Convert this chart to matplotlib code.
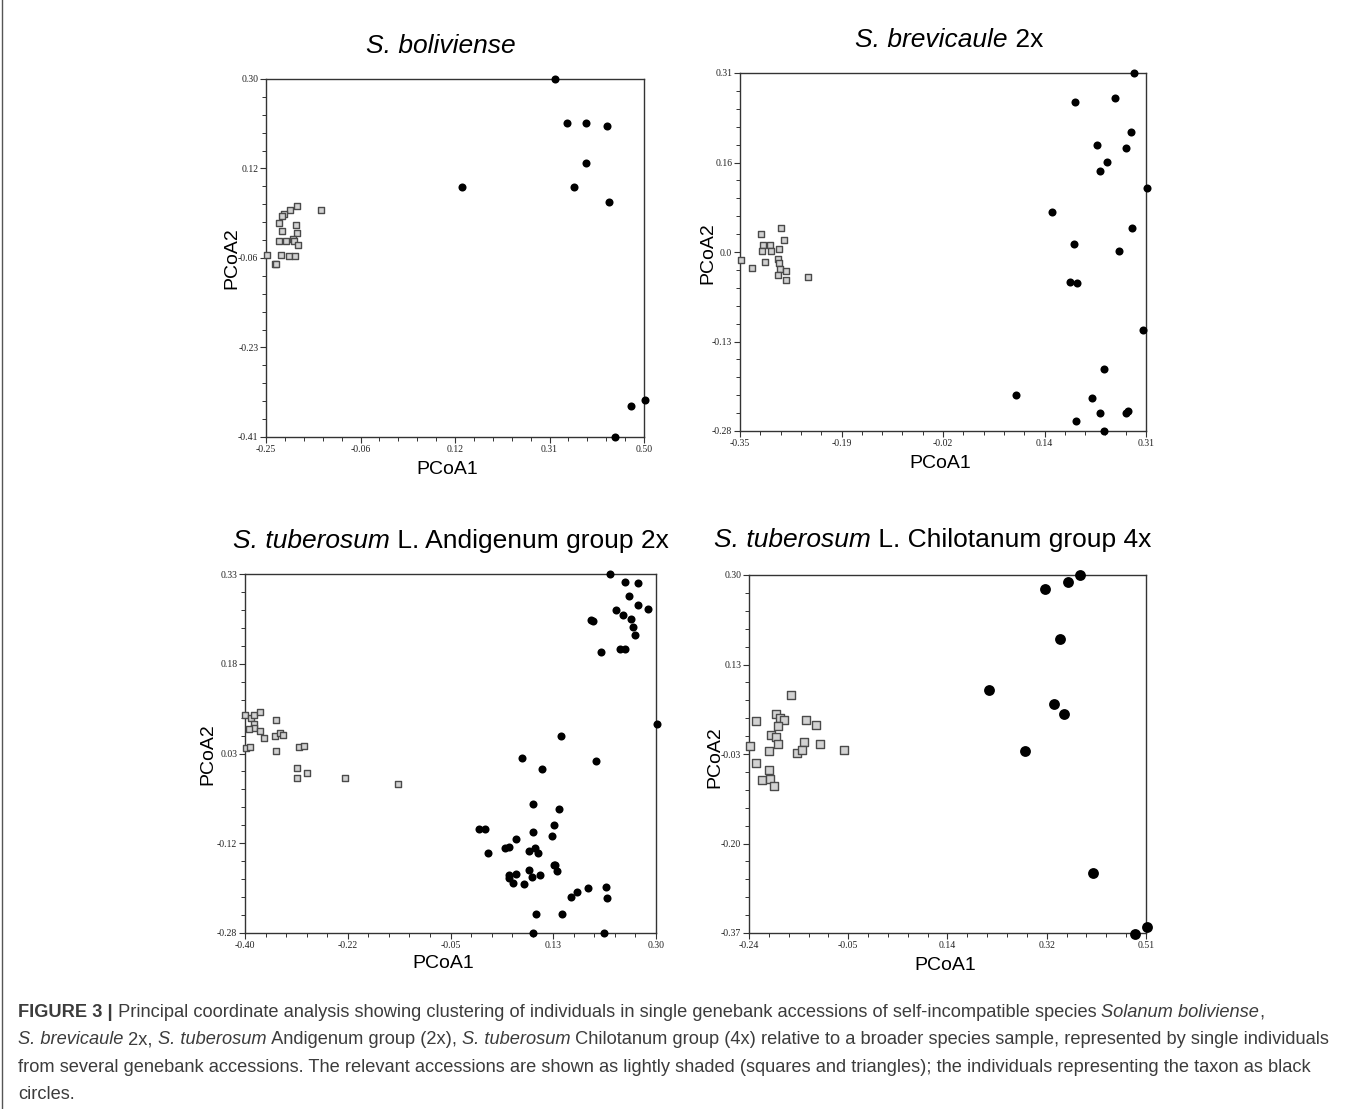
import numpy as np
import matplotlib
matplotlib.use("Agg")
import matplotlib.pyplot as plt
from matplotlib.ticker import FixedLocator, FixedFormatter, AutoMinorLocator

# ---- data (PCoA1, PCoA2) ----
# S. boliviense
p1_sq_x = [-0.189, -0.203, -0.214, -0.219, -0.140, -0.224, -0.190, -0.218, -0.189, -0.224,
           -0.210, -0.197, -0.195, -0.187, -0.249, -0.221, -0.204, -0.193, -0.233, -0.231]
p1_sq_y = [0.049, 0.041, 0.033, 0.028, 0.041, 0.015, 0.011, -0.001, -0.006, -0.022,
           -0.022, -0.017, -0.022, -0.030, -0.050, -0.050, -0.052, -0.052, -0.066, -0.066]
p1_ci_x = [0.324, 0.347, 0.384, 0.426, 0.385, 0.139, 0.361, 0.431, 0.501, 0.474, 0.443]
p1_ci_y = [0.300, 0.213, 0.213, 0.207, 0.133, 0.086, 0.086, 0.057, -0.336, -0.349, -0.410]

# S. brevicaule 2x
p2_sq_x = [-0.284, -0.316, -0.278, -0.313, -0.302, -0.315, -0.300, -0.286, -0.349,
           -0.309, -0.289, -0.286, -0.330, -0.285, -0.275, -0.289, -0.275, -0.239]
p2_sq_y = [0.055, 0.045, 0.034, 0.027, 0.027, 0.017, 0.017, 0.020, 0.001,
           -0.001, 0.003, -0.003, -0.011, -0.013, -0.017, -0.023, -0.031, -0.026]
p2_ci_x = [0.290, 0.194, 0.260, 0.286, 0.231, 0.278, 0.246, 0.236, 0.311, 0.157, 0.288, 0.193,
           0.266, 0.187, 0.198, 0.305, 0.242, 0.099, 0.223, 0.236, 0.277, 0.280, 0.196, 0.242]
p2_ci_y = [0.310, 0.263, 0.268, 0.213, 0.191, 0.186, 0.164, 0.148, 0.120, 0.081, 0.055, 0.029,
           0.017, -0.034, -0.036, -0.114, -0.177, -0.220, -0.225, -0.250, -0.250, -0.247, -0.263, -0.280]

# S. tuberosum L. Andigenum group 2x
p3_sq_x = [-0.400, -0.390, -0.385, -0.375, -0.385, -0.385, -0.394, -0.375, -0.367, -0.347, -0.349, -0.340,
           -0.336, -0.348, -0.398, -0.392, -0.308, -0.299, -0.311, -0.295, -0.311, -0.229, -0.140]
p3_sq_y = [0.090, 0.086, 0.090, 0.095, 0.075, 0.069, 0.066, 0.063, 0.052, 0.082, 0.055, 0.059,
           0.057, 0.030, 0.035, 0.036, 0.036, 0.037, 0.001, -0.008, -0.017, -0.017, -0.026]
p3_ci_x = [0.222, 0.247, 0.270, 0.254, 0.270, 0.286, 0.232, 0.243, 0.258, 0.189, 0.192, 0.260, 0.264,
           0.238, 0.248, 0.207, 0.301, 0.139, 0.072, 0.197, 0.106, 0.090, 0.135, -0.001, 0.008, 0.126,
           0.090, 0.123, 0.061, 0.042, 0.050, 0.014, 0.084, 0.094, 0.099, 0.126, 0.128, 0.084, 0.132,
           0.049, 0.062, 0.088, 0.103, 0.049, 0.057, 0.075, 0.185, 0.215, 0.166, 0.156, 0.216, 0.095,
           0.140, 0.090, 0.212]
p3_ci_y = [0.330, 0.316, 0.314, 0.293, 0.277, 0.271, 0.268, 0.261, 0.254, 0.252, 0.250, 0.240, 0.226,
           0.202, 0.202, 0.197, 0.075, 0.054, 0.018, 0.013, -0.001, -0.061, -0.070, -0.104, -0.103, -0.097,
           -0.108, -0.115, -0.121, -0.136, -0.134, -0.144, -0.141, -0.136, -0.144, -0.164, -0.164, -0.173,
           -0.175, -0.181, -0.180, -0.184, -0.181, -0.186, -0.195, -0.197, -0.204, -0.201, -0.210, -0.219,
           -0.221, -0.247, -0.247, -0.280, -0.280]

# S. tuberosum L. Chilotanum group 4x
p4_sq_x = [-0.161, -0.227, -0.189, -0.182, -0.174, -0.186, -0.133, -0.114, -0.198, -0.189, -0.186, -0.137,
           -0.106, -0.239, -0.203, -0.150, -0.139, -0.060, -0.226, -0.202, -0.215, -0.200, -0.192]
p4_sq_y = [0.076, 0.027, 0.040, 0.033, 0.028, 0.017, 0.028, 0.020, 0.000, -0.003, -0.017, -0.012,
           -0.016, -0.020, -0.030, -0.033, -0.027, -0.027, -0.051, -0.065, -0.084, -0.082, -0.094]
p4_ci_x = [0.385, 0.363, 0.319, 0.347, 0.213, 0.336, 0.356, 0.282, 0.409, 0.512, 0.490]
p4_ci_y = [0.300, 0.286, 0.273, 0.181, 0.085, 0.059, 0.040, -0.029, -0.258, -0.359, -0.372]

# tick labels as printed
p1_xticks = ["-0.25", "-0.06", "0.12", "0.31", "0.50"]
p1_yticks = ["-0.41", "-0.23", "-0.06", "0.12", "0.30"]
p2_xticks = ["-0.35", "-0.19", "-0.02", "0.14", "0.31"]
p2_yticks = ["-0.28", "-0.13", "0.0", "0.16", "0.31"]
p3_xticks = ["-0.40", "-0.22", "-0.05", "0.13", "0.30"]
p3_yticks = ["-0.28", "-0.12", "0.03", "0.18", "0.33"]
p4_xticks = ["-0.24", "-0.05", "0.14", "0.32", "0.51"]
p4_yticks = ["-0.37", "-0.20", "-0.03", "0.13", "0.30"]

W, H = 1355, 1109
fig = plt.figure(figsize=(W / 100, H / 100), dpi=100)
renderer = fig.canvas.get_renderer()

SANS = "Liberation Sans"
SERIF = "Liberation Serif"


def fx(x):
    return x / W


def fy(y):
    return 1 - y / H


def segments(x, y, segs, size, ha="left", color="black"):
    # draw runs of text with different styles one after another on a baseline
    texts = []
    for s, style, weight in segs:
        t = fig.text(0, fy(y), s, fontsize=size, family=SANS, fontstyle=style,
                     fontweight=weight, color=color, va="baseline", ha="left")
        texts.append(t)
    widths = [t.get_window_extent(renderer).width for t in texts]
    start = x - sum(widths) / 2 if ha == "center" else x
    for t, w in zip(texts, widths):
        t.set_x(fx(start))
        start += w
    return sum(widths)


def panel(box, sq_x, sq_y, ci_x, ci_y, xt, yt, ms_ci, ms_sq, xlab, ylab):
    left, top, right, bottom = box
    ax = fig.add_axes([fx(left), fy(bottom), (right - left) / W, (bottom - top) / H])
    ax.scatter(sq_x, sq_y, marker="s", s=ms_sq ** 2, facecolor="#d2d2d2",
               edgecolor="#4a4a4a", linewidth=1.0, clip_on=False, zorder=3)
    ax.scatter(ci_x, ci_y, marker="o", s=ms_ci ** 2, color="black",
               linewidth=0, clip_on=False, zorder=4)
    xlim = (float(xt[0]), float(xt[-1]))
    ylim = (float(yt[0]), float(yt[-1]))
    ax.set_xlim(xlim)
    ax.set_ylim(ylim)
    ax.xaxis.set_major_locator(FixedLocator(np.linspace(*xlim, 5)))
    ax.xaxis.set_major_formatter(FixedFormatter(xt))
    ax.yaxis.set_major_locator(FixedLocator(np.linspace(*ylim, 5)))
    ax.yaxis.set_major_formatter(FixedFormatter(yt))
    ax.xaxis.set_minor_locator(AutoMinorLocator(5))
    ax.yaxis.set_minor_locator(AutoMinorLocator(5))
    ax.tick_params(which="major", direction="out", length=4, width=0.8, color="#333333",
                   labelsize=7, pad=1.5, labelcolor="#222222")
    ax.tick_params(which="minor", direction="out", length=3, width=0.7, color="#333333")
    for lab in ax.get_xticklabels() + ax.get_yticklabels():
        lab.set_family(SERIF)
    for sp in ax.spines.values():
        sp.set_color("#333333")
        sp.set_linewidth(1.0)
    fig.text(fx(xlab[0]), fy(xlab[1]), "PCoA1", fontsize=14, family=SANS,
             ha="center", va="center")
    fig.text(fx(ylab[0]), fy(ylab[1]), "PCoA2", fontsize=14, family=SANS,
             ha="center", va="center", rotation=90)
    return ax


panel((266, 79, 644, 437), p1_sq_x, p1_sq_y, p1_ci_x, p1_ci_y, p1_xticks, p1_yticks,
      5.8, 4.8, (447, 470), (232, 258))
panel((740, 73, 1146, 431), p2_sq_x, p2_sq_y, p2_ci_x, p2_ci_y, p2_xticks, p2_yticks,
      5.8, 4.8, (940, 463), (708, 253))
panel((245, 574, 656, 933), p3_sq_x, p3_sq_y, p3_ci_x, p3_ci_y, p3_xticks, p3_yticks,
      5.8, 4.8, (443, 964), (208, 754))
panel((749, 575, 1146, 933), p4_sq_x, p4_sq_y, p4_ci_x, p4_ci_y, p4_xticks, p4_yticks,
      7.8, 6.0, (945, 965), (715, 757))

# panel titles
TS = 19
segments(441, 53, [("S. boliviense", "italic", "normal")], TS, ha="center")
segments(949, 47, [("S. brevicaule", "italic", "normal"), (" 2x", "normal", "normal")], TS, ha="center")
segments(451, 548, [("S. tuberosum", "italic", "normal"),
                    (" L. Andigenum group 2x", "normal", "normal")], TS, ha="center")
segments(933, 547, [("S. tuberosum", "italic", "normal"),
                    (" L. Chilotanum group 4x", "normal", "normal")], TS, ha="center")

# caption
cap_color = "#3c3c3c"
N, I, B = "normal", "italic", "bold"
cap_lines = [
    [("FIGURE 3 |", N, B),
     (" Principal coordinate analysis showing clustering of individuals in single genebank "
      "accessions of self-incompatible species ", N, N),
     ("Solanum boliviense", I, N), (",", N, N)],
    [("S. brevicaule", I, N), (" 2x, ", N, N), ("S. tuberosum", I, N),
     (" Andigenum group (2x), ", N, N), ("S. tuberosum", I, N),
     (" Chilotanum group (4x) relative to a broader species sample, represented by single individuals", N, N)],
    [("from several genebank accessions. The relevant accessions are shown as lightly shaded "
      "(squares and triangles); the individuals representing the taxon as black", N, N)],
    [("circles.", N, N)],
]
# size chosen so the second line spans the same width as in the original
probe = fig.text(0, 0, "".join(s for s, _, _ in cap_lines[1]), fontsize=12, family=SANS)
cap_size = 12 * 1318 / probe.get_window_extent(renderer).width
probe.remove()
for i, line in enumerate(cap_lines):
    segments(18, 1017 + i * 27.4, line, cap_size, color=cap_color)

# left frame line of the figure box
fig.add_artist(plt.Line2D([fx(1.5), fx(1.5)], [0, 1], color="#555555", linewidth=1.0))

fig.savefig("out.png", dpi=100)
